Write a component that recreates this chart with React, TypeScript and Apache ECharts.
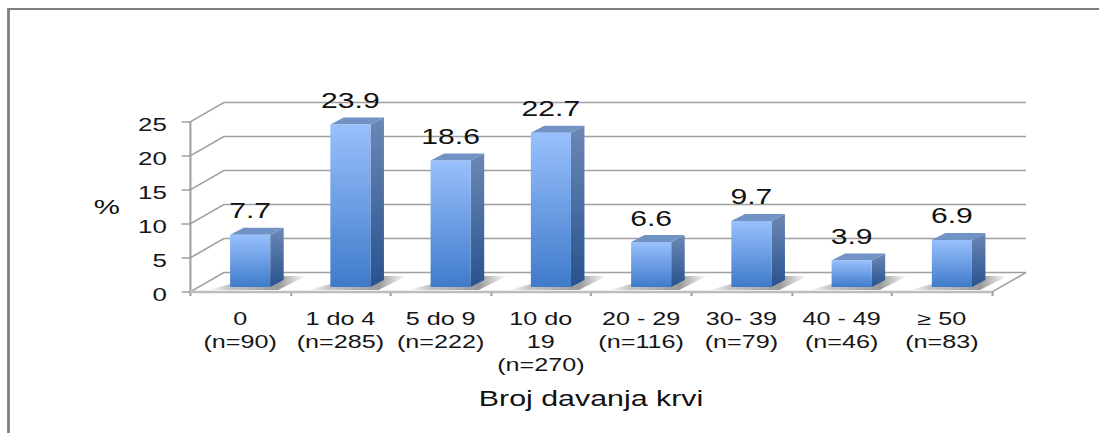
import React, { useEffect, useRef } from "react";
import * as echarts from "echarts";

const categories = ["0\n(n=90)", "1 do 4\n(n=285)", "5 do 9\n(n=222)", "10 do\n19\n(n=270)", "20 - 29\n(n=116)", "30- 39\n(n=79)", "40 - 49\n(n=46)", "≥ 50\n(n=83)"];
const percentages = [7.7, 23.9, 18.6, 22.7, 6.6, 9.7, 3.9, 6.9];
const yTicks = [0, 5, 10, 15, 20, 25];
const yAxisName = "%";
const xAxisName = "Broj davanja krvi";

// The reference is a picture stretched horizontally, so the whole chart is too.
const STRETCH = 1.4;
const W = 1099 / STRETCH;
const H = 433;
const FONT = '"Liberation Sans", Arial, sans-serif';
const GRID_COLOR = "#a0a0a0";
const TEXT_COLOR = "#161616";
const sx = (px: number) => px / STRETCH;

function renderWall(params: any, api: any) {
  const cs = params.coordSys;
  const y = api.coord([0, api.value(1)])[1];
  const dx = sx(34);
  const dy = -19.5;
  const line = { stroke: GRID_COLOR, lineWidth: 1.5, fill: "none" };
  const children: any[] = [
    { type: "polyline", shape: { points: [[cs.x, y], [cs.x + dx, y + dy], [cs.x + cs.width + dx, y + dy]] }, style: line },
  ];
  if (api.value(1) === 0) {
    children.push({ type: "line", shape: { x1: cs.x + cs.width, y1: y, x2: cs.x + cs.width + dx, y2: y + dy }, style: line });
    children.push({ type: "line", shape: { x1: cs.x, y1: y, x2: cs.x + cs.width, y2: y }, style: { stroke: "#bdbdbd", lineWidth: 2.5 } });
  }
  return { type: "group", children };
}

function renderBar(params: any, api: any) {
  const i = api.value(0);
  const v = api.value(1);
  const c = api.coord([i, v]);
  const base = api.coord([i, 0]);
  const cat = api.size([1, 0])[0];
  const bw = cat * 0.4;
  const left = c[0] - bw / 2 + cat * 0.1;
  const right = left + bw;
  const bottom = base[1] - 5;
  const top = c[1] - 5;
  const dx = sx(13.5);
  const dy = -7;
  const grad = (stops: [number, string][], x2 = 0, y2 = 1) =>
    new echarts.graphic.LinearGradient(0, 0, x2, y2, stops.map(([offset, color]) => ({ offset, color })));
  return {
    type: "group",
    children: [
      {
        type: "polygon",
        shape: { points: [[left - sx(22), bottom + 3], [right + sx(8), bottom + 3], [right + sx(36), bottom - 11], [left + sx(30), bottom - 11]] },
        style: {
          fill: new echarts.graphic.LinearGradient(0, 0.5, 1, 0.5, [
            { offset: 0, color: "rgba(130,130,130,0)" },
            { offset: 0.2, color: "rgba(130,130,130,0.45)" },
            { offset: 0.72, color: "rgba(120,120,120,0.75)" },
            { offset: 1, color: "rgba(130,130,130,0)" },
          ]),
        },
      },
      {
        type: "polygon",
        shape: { points: [[right, top], [right + dx, top + dy], [right + dx, bottom + dy], [right, bottom]] },
        style: { fill: grad([[0, "#6c88b5"], [1, "#28528f"]]) },
      },
      {
        type: "polygon",
        shape: { points: [[left, top], [left + dx, top + dy], [right + dx, top + dy], [right, top]] },
        style: { fill: "#7192c4" },
      },
      {
        type: "rect",
        shape: { x: left, y: top, width: bw, height: bottom - top },
        style: { fill: grad([[0, "#98c0fd"], [1, "#3f7bca"]]) },
      },
      {
        type: "text",
        style: {
          text: String(v),
          x: left + bw / 2,
          y: top - 24,
          align: "center",
          verticalAlign: "middle",
          fontFamily: FONT,
          fontSize: 21.5,
          fill: "#111",
        },
      },
    ],
  };
}

export default function App() {
  const ref = useRef<HTMLDivElement>(null);
  useEffect(() => {
    const chart = echarts.init(ref.current!, undefined, { renderer: "svg" });
    chart.setOption({
      animation: false,
      backgroundColor: "#fff",
      graphic: [
        {
          type: "polyline",
          silent: true,
          shape: { points: [[sx(8.5), H + 5], [sx(8.5), 9], [W + 5, 9]] },
          style: { stroke: "#808080", lineWidth: 2, fill: "none" },
        },
      ],
      grid: { left: sx(190), top: 122, width: sx(802), height: 170 },
      xAxis: {
        type: "category",
        data: categories,
        name: xAxisName,
        nameLocation: "middle",
        nameGap: 96,
        nameTextStyle: { fontFamily: FONT, fontSize: 21.7, color: "#111" },
        axisLine: { lineStyle: { color: GRID_COLOR, width: 1.5 } },
        axisTick: { show: true, length: 4, lineStyle: { color: GRID_COLOR, width: 1.5 } },
        axisLabel: { interval: 0, margin: 15, fontFamily: FONT, fontSize: 18, lineHeight: 23, color: TEXT_COLOR, hideOverlap: false },
        splitLine: { show: false },
      },
      yAxis: {
        type: "value",
        min: 0,
        max: 25,
        interval: 5,
        name: yAxisName,
        nameLocation: "middle",
        nameRotate: 0,
        nameGap: 50,
        nameTextStyle: { fontFamily: FONT, fontSize: 21, color: "#111" },
        axisLine: { show: true, lineStyle: { color: GRID_COLOR, width: 1.5 } },
        axisTick: { show: true, length: 6, lineStyle: { color: GRID_COLOR, width: 1.5 } },
        axisLabel: {
          margin: 16.5,
          formatter: "{v|{value}}",
          rich: { v: { fontFamily: FONT, fontSize: 18.5, color: TEXT_COLOR, padding: [6, 0, 0, 0] } },
        },
        splitLine: { show: false },
      },
      series: [
        {
          type: "custom",
          z: 1,
          silent: true,
          clip: false,
          renderItem: renderWall,
          encode: { x: 0, y: 1 },
          data: yTicks.map((t) => [0, t]),
        },
        {
          type: "custom",
          z: 3,
          silent: true,
          clip: false,
          renderItem: renderBar,
          encode: { x: 0, y: 1 },
          data: percentages.map((p, i) => [i, p]),
        },
      ],
    });
    return () => chart.dispose();
  }, []);
  return (
    <div
      ref={ref}
      style={{ position: "fixed", left: 0, top: 0, width: W, height: H, transform: `scaleX(${STRETCH})`, transformOrigin: "0 0" }}
    />
  );
}
